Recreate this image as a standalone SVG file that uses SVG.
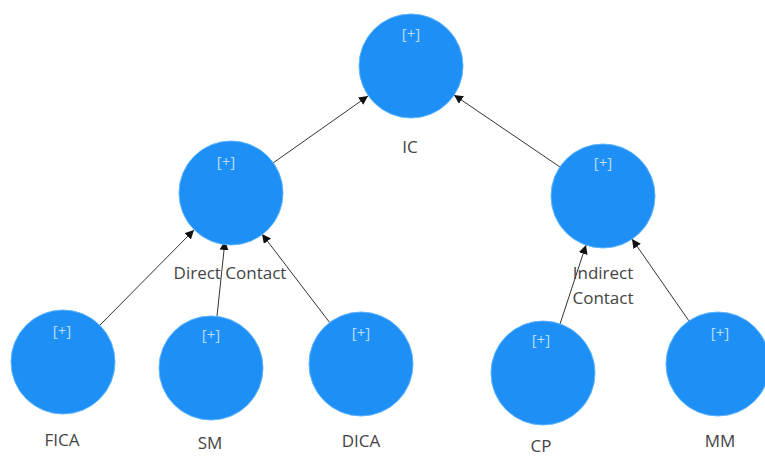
<svg xmlns="http://www.w3.org/2000/svg" width="765" height="456" viewBox="0 0 765 456">
<defs>
<style>
.node{fill:#1E8FF5;stroke:#5DB4FF;stroke-width:1}
.plus{font-family:"Open Sans","Noto Sans",sans-serif;font-size:15px;fill:#B8DDFF;text-anchor:middle}
.lbl{font-family:"Open Sans","Noto Sans",sans-serif;font-size:17px;fill:#444;text-anchor:middle}
.edge{stroke:#333;stroke-width:1;fill:none;marker-end:url(#ah)}
</style>
<marker id="ah" viewBox="0 0 10 10" refX="10" refY="5" markerWidth="9" markerHeight="9" orient="auto" markerUnits="userSpaceOnUse">
<path d="M0,0 L10,5 L0,10 z" fill="#111"/>
</marker>
</defs>
<rect width="765" height="456" fill="#fff"/>
<g id="connectors">
<line class="edge" x1="100" y1="325" x2="194" y2="230"/>
<line class="edge" x1="217" y1="316" x2="225" y2="241"/>
<line class="edge" x1="330" y1="323" x2="262" y2="234"/>
<line class="edge" x1="560" y1="324" x2="586" y2="245"/>
<line class="edge" x1="689" y1="321" x2="632" y2="239"/>
<line class="edge" x1="273" y1="163" x2="368" y2="96"/>
<line class="edge" x1="560" y1="167" x2="454" y2="95"/>
</g>
<g id="IC"><circle class="node" cx="411" cy="66" r="52"/><text class="plus" x="411" y="39">[+]</text><text class="lbl" x="410" y="153">IC</text></g>
<g id="DirectContact"><circle class="node" cx="231" cy="193" r="52"/><text class="plus" x="226" y="167">[+]</text><text class="lbl" x="230" y="279">Direct Contact</text></g>
<g id="IndirectContact"><circle class="node" cx="603" cy="196" r="52"/><text class="plus" x="603" y="168">[+]</text><text class="lbl" x="603" y="279">Indirect</text><text class="lbl" x="603" y="304">Contact</text></g>
<g id="FICA"><circle class="node" cx="63" cy="362" r="52"/><text class="plus" x="62" y="336">[+]</text><text class="lbl" x="62" y="446">FICA</text></g>
<g id="SM"><circle class="node" cx="211" cy="368" r="52"/><text class="plus" x="211" y="340">[+]</text><text class="lbl" x="210" y="449">SM</text></g>
<g id="DICA"><circle class="node" cx="361" cy="364" r="52"/><text class="plus" x="361" y="338">[+]</text><text class="lbl" x="361" y="447">DICA</text></g>
<g id="CP"><circle class="node" cx="543" cy="373" r="52"/><text class="plus" x="541" y="345">[+]</text><text class="lbl" x="541" y="452">CP</text></g>
<g id="MM"><circle class="node" cx="718" cy="364" r="52"/><text class="plus" x="720" y="338">[+]</text><text class="lbl" x="720" y="447">MM</text></g>
</svg>
